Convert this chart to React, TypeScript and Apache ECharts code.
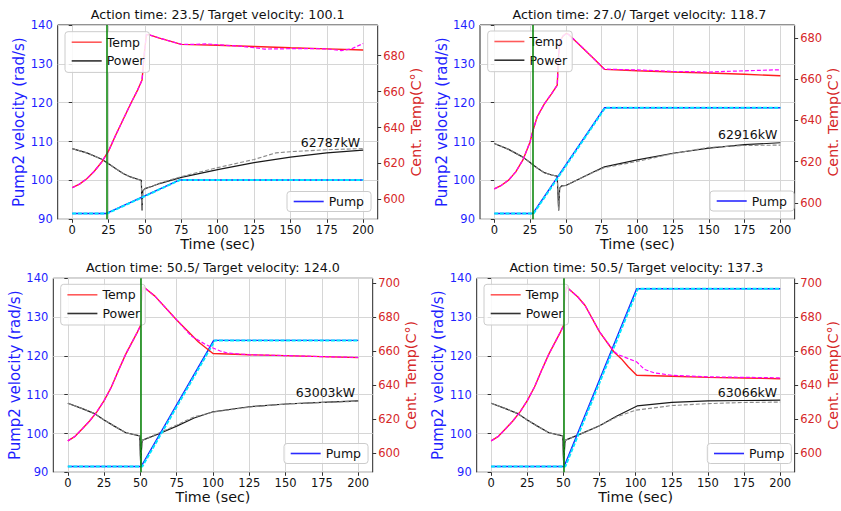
import React, { useEffect, useRef } from "react";
import * as echarts from "echarts";

const FONT = "DejaVu Sans";

const timeTicks = [0, 25, 50, 75, 100, 125, 150, 175, 200];
const tempTicksTop = [600, 620, 640, 660, 680];
const tempTicksBottom = [600, 620, 640, 660, 680, 700];

const titles = [
  "Action time: 23.5/ Target velocity: 100.1",
  "Action time: 27.0/ Target velocity: 118.7",
  "Action time: 50.5/ Target velocity: 124.0",
  "Action time: 50.5/ Target velocity: 137.3",
];
const actionTimes = [23.5, 27.0, 50.5, 50.5];
const powerLabels = ["62787kW", "62916kW", "63003kW", "63066kW"];
const tempMin = [588.9, 592.0, 588.8, 588.8];
const tempMax = [697.1, 686.2, 703.0, 703.0];

// ---- Panel 1 ----
const p1Pump = [[0, 91.5], [23.5, 91.5], [73.5, 100.1], [200, 100.1]];
const p1PumpRef = [[0, 91.5], [24, 91.5], [74, 100.1], [200, 100.1]];
const p1Temp = [[0, 606.5], [5, 608.5], [10, 611.5], [15, 615.5], [20, 620.5], [25, 627], [30, 636], [35, 644.5], [40, 653], [45, 661], [48, 666.5], [49.5, 681], [51, 691.8], [53, 691.6], [60, 689.8], [75, 686.3], [100, 685.8], [125, 685.1], [150, 684.4], [175, 683.8], [200, 683.2]];
const p1TempRef = [[0, 606.5], [5, 608.5], [10, 611.5], [15, 615.5], [20, 620.5], [25, 627], [30, 636], [35, 644.5], [40, 653], [45, 661], [48, 666.5], [49.5, 681], [51, 691.8], [53, 691.6], [60, 689.8], [75, 686.3], [85, 686.3], [92, 686.6], [100, 686.1], [115, 685.3], [125, 684.5], [132, 683.7], [140, 683.8], [160, 684], [175, 683.8], [185, 682.8], [192, 683.8], [200, 686.8]];
const p1Power = [[0, 108.2], [10, 107.1], [20, 105.5], [25, 104.3], [30, 103], [35, 101.8], [40, 100.9], [45, 100.3], [47.5, 100], [48, 92.3], [48.5, 97.3], [50, 97.9], [55, 98.5], [60, 99.2], [75, 100.8], [100, 102.8], [125, 104.6], [150, 106], [175, 107.1], [200, 107.8]];
const p1PowerRef = [[0, 108.2], [10, 107.1], [20, 105.5], [25, 104.3], [30, 103], [35, 101.8], [40, 100.9], [45, 100.3], [47.5, 100], [48, 92.3], [48.5, 97.3], [50, 97.9], [55, 98.5], [60, 99.3], [75, 101], [100, 103.3], [125, 105.4], [140, 107.1], [150, 107.4], [175, 107.9], [200, 108.2]];

// ---- Panel 2 ----
const p2Pump = [[0, 91.5], [27, 91.5], [77, 118.7], [200, 118.7]];
const p2PumpRef = [[0, 91.5], [27.5, 91.5], [77.5, 118.7], [200, 118.7]];
const p2Temp = [[0, 606.7], [5, 608.5], [10, 611], [15, 615], [20, 620.8], [25, 629.5], [27, 635], [30, 641.7], [35, 648], [40, 652.8], [44, 657.1], [45, 672], [46, 678.5], [48, 680.8], [50.5, 682.2], [52, 681.6], [60, 676.3], [70, 669.6], [77, 664.7], [100, 664], [125, 663.4], [150, 662.9], [175, 662.3], [200, 661.6]];
const p2TempRef = [[0, 606.7], [5, 608.5], [10, 611], [15, 615], [20, 620.8], [25, 629.5], [27, 635], [30, 641.7], [35, 648], [40, 652.8], [44, 657.1], [45, 672], [46, 678.5], [48, 680.8], [50.5, 682.2], [52, 681.6], [60, 676.3], [70, 669.6], [77, 664.8], [100, 664.4], [125, 663.7], [150, 663.4], [175, 664], [200, 664.5]];
const p2Power = [[0, 109.5], [10, 108], [20, 106], [25, 104.6], [30, 103.2], [35, 102], [40, 101.4], [44, 101.1], [45, 92.3], [45.7, 98], [47, 98.6], [50, 98.7], [60, 100.5], [70, 102.3], [77, 103.5], [100, 105.3], [125, 107], [150, 108.3], [175, 109.2], [200, 109.7]];
const p2PowerRef = [[0, 109.5], [10, 108], [20, 106], [25, 104.6], [30, 103.2], [35, 102], [40, 101.4], [44, 101.1], [45, 92.3], [45.7, 98], [47, 98.6], [50, 98.7], [60, 100.5], [70, 102.2], [77, 103.3], [100, 104.9], [125, 106.9], [150, 108.5], [175, 109], [200, 109.1]];

// ---- Panel 3 ----
const p3Pump = [[0, 91.5], [50.5, 91.5], [100.5, 124], [200, 124]];
const p3PumpRef = [[0, 91.5], [51.3, 91.5], [101.3, 124], [200, 124]];
const p3Temp = [[0, 607.3], [5, 610], [10, 614.4], [15, 619], [20, 624.4], [25, 631], [30, 639], [35, 649], [40, 658.5], [45, 666.6], [48, 671.5], [50, 675], [50.5, 688], [52, 698], [60, 692.5], [75, 678.5], [90, 665.5], [100, 658.7], [125, 658], [150, 657.5], [175, 656.9], [200, 656.3]];
const p3TempRef = [[0, 607.3], [5, 610], [10, 614.4], [15, 619], [20, 624.4], [25, 631], [30, 639], [35, 649], [40, 658.5], [45, 666.6], [48, 671.5], [50, 675], [50.5, 688], [52, 698], [60, 692.5], [75, 678.5], [85, 669], [90, 666.5], [95, 664], [100, 662], [105, 660.2], [110, 659], [120, 658.3], [125, 658], [150, 657.5], [175, 656.9], [200, 656.4]];
const p3Power = [[0, 107.8], [10, 106.4], [18, 105.2], [25, 103.5], [32, 101.9], [40, 100.2], [49.5, 99.4], [50.2, 91.9], [51, 97.5], [51.5, 98.3], [62, 99.8], [75, 101.9], [87, 104], [100, 105.6], [125, 106.9], [150, 107.6], [175, 108], [200, 108.4]];
const p3PowerRef = [[0, 107.8], [10, 106.4], [18, 105.2], [25, 103.5], [32, 101.9], [40, 100.2], [49.5, 99.4], [50.2, 91.9], [51, 97.5], [51.5, 98.3], [62, 100], [75, 102.2], [87, 104.3], [100, 105.5], [125, 106.8], [150, 107.6], [175, 108], [200, 108.3]];

// ---- Panel 4 ----
const p4Pump = [[0, 91.5], [50.5, 91.5], [100.7, 137.3], [200, 137.3]];
const p4PumpRef = [[0, 91.5], [51.3, 91.5], [101.5, 137.3], [200, 137.3]];
const p4Temp = [[0, 607.3], [5, 610], [10, 614.4], [15, 619], [20, 624.4], [25, 631], [30, 639], [35, 649], [40, 658.5], [45, 666.6], [48, 671.5], [50, 675], [50.5, 688], [52, 698], [60, 692], [65, 687], [75, 671.5], [85, 659.6], [90, 655.7], [95, 650.8], [100.7, 645.9], [125, 645.3], [150, 644.7], [175, 644.3], [200, 643.9]];
const p4TempRef = [[0, 607.3], [5, 610], [10, 614.4], [15, 619], [20, 624.4], [25, 631], [30, 639], [35, 649], [40, 658.5], [45, 666.6], [48, 671.5], [50, 675], [50.5, 688], [52, 698], [60, 692], [65, 687], [75, 671.5], [85, 660], [88, 658], [95, 655.7], [100.7, 653.8], [106, 649.4], [113, 647.3], [125, 645.9], [150, 645], [200, 644.4]];
const p4Power = [[0, 107.8], [10, 106.4], [18, 105.2], [25, 103.5], [32, 101.9], [40, 100.2], [49.5, 99.4], [50.2, 91.9], [51, 97.5], [51.5, 98.3], [62, 99.9], [75, 102], [87, 104.5], [101, 107.1], [125, 108], [150, 108.4], [175, 108.5], [200, 108.6]];
const p4PowerRef = [[0, 107.8], [10, 106.4], [18, 105.2], [25, 103.5], [32, 101.9], [40, 100.2], [49.5, 99.4], [50.2, 91.9], [51, 97.5], [51.5, 98.3], [62, 99.9], [75, 102], [87, 104.3], [100, 106], [125, 107.2], [150, 107.7], [175, 108], [200, 108.1]];

const panels = [
  { pump: p1Pump, pumpRef: p1PumpRef, temp: p1Temp, tempRef: p1TempRef, power: p1Power, powerRef: p1PowerRef },
  { pump: p2Pump, pumpRef: p2PumpRef, temp: p2Temp, tempRef: p2TempRef, power: p2Power, powerRef: p2PowerRef },
  { pump: p3Pump, pumpRef: p3PumpRef, temp: p3Temp, tempRef: p3TempRef, power: p3Power, powerRef: p3PowerRef },
  { pump: p4Pump, pumpRef: p4PumpRef, temp: p4Temp, tempRef: p4TempRef, power: p4Power, powerRef: p4PowerRef },
];

// layout (pixels)
const grids = [
  { left: 57.7, top: 25, width: 320, height: 194.3 },
  { left: 480, top: 25, width: 319, height: 194.3 },
  { left: 53.3, top: 278.3, width: 319.4, height: 194 },
  { left: 476.7, top: 278.3, width: 319.3, height: 194 },
];
const legendTopLeft = [
  { left: 65, top: 31.7 },
  { left: 487.7, top: 31 },
  { left: 60.7, top: 284.3 },
  { left: 484, top: 284.3 },
];
const legendPump = [
  { left: 287, top: 191.5 },
  { left: 710, top: 191 },
  { left: 284, top: 443.5 },
  { left: 707.3, top: 443.5 },
];

const C = {
  pump: "#1a1aff",
  pumpRef: "#00e5ff",
  temp: "#ff1f1f",
  tempRef: "#ff00ff",
  power: "#1a1a1a",
  powerRef: "#8a8a8a",
  green: "#008000",
  grid: "#d6d6d6",
  frame: "#262626",
  leftLabel: "#1f1fff",
  rightLabel: "#d62728",
};

function buildOption() {
  const title: any[] = [];
  const grid: any[] = [];
  const xAxis: any[] = [];
  const yAxis: any[] = [];
  const legend: any[] = [];
  const series: any[] = [];

  panels.forEach((p, i) => {
    const g = grids[i];
    grid.push({
      left: g.left,
      top: g.top,
      width: g.width,
      height: g.height,
      show: true,
      borderColor: C.frame,
      borderWidth: 1,
      backgroundColor: "transparent",
      containLabel: false,
    });
    title.push({
      text: titles[i],
      left: g.left + g.width / 2,
      top: g.top - 17.5,
      textAlign: "center",
      padding: 0,
      textStyle: { fontFamily: FONT, fontSize: 12.7, fontWeight: "normal", color: "#111" },
    });
    xAxis.push({
      type: "value",
      gridIndex: i,
      min: -10,
      max: 210,
      name: "Time (sec)",
      nameLocation: "middle",
      nameGap: 16,
      nameTextStyle: { fontFamily: FONT, fontSize: 14.3, color: "#111" },
      axisLine: { show: false },
      axisTick: { show: true, length: 3.5, customValues: timeTicks, lineStyle: { color: "#333" } },
      axisLabel: { customValues: timeTicks, fontFamily: FONT, fontSize: 11.5, color: "#111", margin: 5 },
      splitLine: { show: true, lineStyle: { color: C.grid, width: 1 } },
    });
    yAxis.push({
      type: "value",
      gridIndex: i,
      position: "left",
      min: 90,
      max: 140,
      interval: 10,
      name: "Pump2 velocity (rad/s)",
      nameLocation: "middle",
      nameGap: 27,
      nameTextStyle: { fontFamily: FONT, fontSize: 15, color: C.leftLabel },
      axisLine: { show: false },
      axisTick: { show: true, length: 3.5, lineStyle: { color: "#333" } },
      axisLabel: { fontFamily: FONT, fontSize: 11.5, color: C.leftLabel, margin: 5 },
      splitLine: { show: true, lineStyle: { color: C.grid, width: 1 } },
    });
    const rt = i < 2 ? tempTicksTop : tempTicksBottom;
    yAxis.push({
      type: "value",
      gridIndex: i,
      position: "right",
      min: tempMin[i],
      max: tempMax[i],
      name: "Cent. Temp(C°)",
      nameLocation: "middle",
      nameGap: 27,
      nameTextStyle: { fontFamily: FONT, fontSize: 14.3, color: C.rightLabel },
      axisLine: { show: false },
      axisTick: { show: true, length: 3.5, customValues: rt, lineStyle: { color: "#333" } },
      axisLabel: { customValues: rt, fontFamily: FONT, fontSize: 11.5, color: C.rightLabel, margin: 5.5 },
      splitLine: { show: false },
    });

    const lt = legendTopLeft[i];
    legend.push({
      left: lt.left,
      top: lt.top,
      orient: "vertical",
      icon: "rect",
      itemWidth: 30,
      itemHeight: 1.6,
      itemGap: 3.7,
      padding: [3, 5, 4, 6.7],
      backgroundColor: "rgba(255,255,255,0.85)",
      borderColor: "#cccccc",
      borderWidth: 1,
      borderRadius: 3,
      selectedMode: false,
      textStyle: { fontFamily: FONT, fontSize: 12.5, color: "#111", lineHeight: 15 },
      data: [
        { name: "Temp", itemStyle: { color: "#ff5a5a" } },
        { name: "Power", itemStyle: { color: "#333333" } },
      ],
    });
    const lp = legendPump[i];
    legend.push({
      left: lp.left,
      top: lp.top,
      orient: "vertical",
      icon: "rect",
      itemWidth: 30,
      itemHeight: 1.6,
      padding: [2.5, 7, 2.5, 6.7],
      backgroundColor: "rgba(255,255,255,0.85)",
      borderColor: "#cccccc",
      borderWidth: 1,
      borderRadius: 3,
      selectedMode: false,
      textStyle: { fontFamily: FONT, fontSize: 12.5, color: "#111", lineHeight: 15 },
      data: [{ name: "Pump", itemStyle: { color: "#2a2aff" } }],
    });

    const xi = i;
    const yl = i * 2;
    const yr = i * 2 + 1;
    const lastPower = p.power[p.power.length - 1];

    series.push({
      name: "Power",
      type: "line",
      xAxisIndex: xi,
      yAxisIndex: yl,
      data: p.power,
      color: C.power,
      showSymbol: false,
      symbol: "none",
      lineStyle: { color: C.power, width: 1.2 },
      markPoint: {
        symbol: "circle",
        symbolSize: 0,
        silent: true,
        data: [{ coord: lastPower, value: powerLabels[i] }],
        label: {
          show: true,
          position: "left",
          offset: [2, -8],
          formatter: powerLabels[i],
          fontFamily: FONT,
          fontSize: 12.5,
          color: "#111",
        },
      },
    });
    series.push({
      name: "PowerRef",
      type: "line",
      xAxisIndex: xi,
      yAxisIndex: yl,
      data: p.powerRef,
      showSymbol: false,
      symbol: "none",
      lineStyle: { color: C.powerRef, width: 1.1, type: [4, 2] },
    });
    series.push({
      name: "Pump",
      type: "line",
      xAxisIndex: xi,
      yAxisIndex: yl,
      data: p.pump,
      color: C.pump,
      showSymbol: false,
      symbol: "none",
      lineStyle: { color: C.pump, width: 1.4 },
    });
    series.push({
      name: "PumpRef",
      type: "line",
      xAxisIndex: xi,
      yAxisIndex: yl,
      data: p.pumpRef,
      showSymbol: false,
      symbol: "none",
      lineStyle: { color: C.pumpRef, width: 2, type: [4, 1.6] },
    });
    series.push({
      name: "Temp",
      type: "line",
      xAxisIndex: xi,
      yAxisIndex: yr,
      data: p.temp,
      color: C.temp,
      showSymbol: false,
      symbol: "none",
      lineStyle: { color: C.temp, width: 1.4 },
    });
    series.push({
      name: "TempRef",
      type: "line",
      xAxisIndex: xi,
      yAxisIndex: yr,
      data: p.tempRef,
      showSymbol: false,
      symbol: "none",
      lineStyle: { color: C.tempRef, width: 1.2, type: [4, 2] },
      markLine: {
        silent: true,
        symbol: ["none", "none"],
        label: { show: false },
        lineStyle: { color: C.green, width: 1.5, type: "solid" },
        data: [{ xAxis: actionTimes[i] }],
      },
    });
  });

  return {
    animation: false,
    backgroundColor: "#ffffff",
    textStyle: { fontFamily: FONT },
    title,
    grid,
    xAxis,
    yAxis,
    legend,
    series,
  };
}

export default function App() {
  const ref = useRef<HTMLDivElement>(null);
  useEffect(() => {
    if (!ref.current) return;
    const chart = echarts.init(ref.current, null, { renderer: "svg" });
    chart.setOption(buildOption());
    return () => chart.dispose();
  }, []);
  return (
    <div
      ref={ref}
      style={{ position: "fixed", left: 0, top: 0, width: 841, height: 511, background: "#fff" }}
    />
  );
}
